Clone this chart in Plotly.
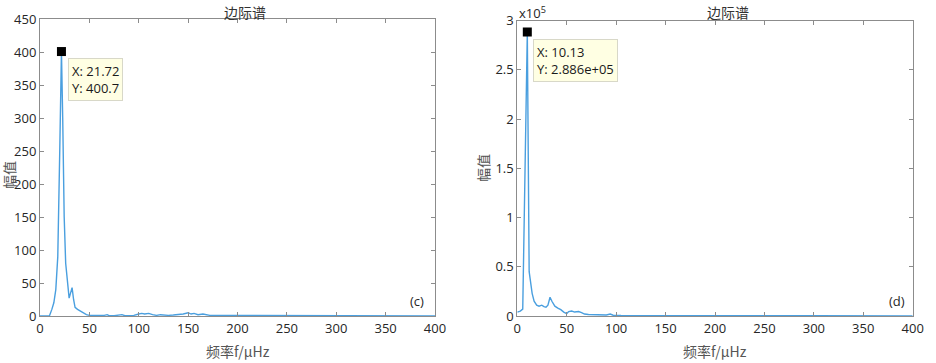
import plotly.graph_objects as go

W, H = 936, 363

# ---- data ----
c_freq = [0, 5, 9.5, 12, 14, 16, 18, 20, 21.72, 23, 24.5, 26, 28, 29.5, 31, 32.5, 34, 35.5,
          38, 41, 44, 47, 50, 55, 60, 65, 68, 70, 75, 80, 83, 86, 90, 95, 100, 103, 106,
          110, 114, 118, 122, 126, 130, 135, 140, 145, 150, 153, 156, 160, 165, 168, 172,
          180, 190, 200, 220, 250, 300, 350, 400]
c_amp = [0, 0, 0, 10, 20, 40, 90, 250, 400.7, 300, 150, 80, 45, 27, 35, 43, 25, 13,
         10, 7, 4, 2, 1, 1, 0.5, 1, 2, 0.5, 0.5, 1, 2, 0.5, 0.5, 1, 3, 4, 3,
         4, 2, 1, 2, 1, 1, 1.5, 2, 3, 5, 3, 4, 2, 3, 2, 1,
         1, 1, 0.5, 0.5, 0.3, 0.2, 0.1, 0.1]
c_peak_x, c_peak_y = [21.72], [400.7]

d_freq = [0, 3, 5.5, 10.13, 12, 15, 17, 19.6, 22, 24.7, 27, 29, 31, 33.1, 35, 38, 41, 44,
          47, 50, 52, 55, 58, 62, 65, 68, 72, 80, 90, 94, 97, 105, 120, 150, 200, 250,
          300, 400]
d_amp = [4000, 5000, 7000, 288600, 45000, 23000, 15000, 11000, 10000, 11000, 9500, 9000,
         11000, 19000, 15000, 10000, 8000, 6500, 4000, 2500, 4500, 5000, 4000, 4500, 3500,
         2000, 1500, 1000, 1000, 2000, 800, 500, 400, 300, 300, 200, 200, 100]
d_peak_x, d_peak_y = [10.13], [288600]

x_ticks = [0, 50, 100, 150, 200, 250, 300, 350, 400]
c_yticks = [0, 50, 100, 150, 200, 250, 300, 350, 400, 450]
d_yticks = [0, 50000, 100000, 150000, 200000, 250000, 300000]
d_yticklabels = ["0", "0.5", "1", "1.5", "2", "2.5", "3"]

title_text = "边际谱"
xlabel = "频率f/μHz"
ylabel = "幅值"

LINE = "#4a9fdf"
AX = "#8c8c8c"
TXT = "#262626"
FONT = "Open Sans"
CJK = "Noto Sans CJK SC"


def px(x):
    return x / W


def py(y):
    return 1 - y / H


fig = go.Figure()
fig.add_trace(go.Scatter(x=c_freq, y=c_amp, mode="lines", line=dict(color=LINE, width=1.4),
                         xaxis="x", yaxis="y", showlegend=False))
fig.add_trace(go.Scatter(x=c_peak_x, y=c_peak_y, mode="markers",
                         marker=dict(symbol="square", size=9, color="black"),
                         xaxis="x", yaxis="y", showlegend=False))
fig.add_trace(go.Scatter(x=d_freq, y=d_amp, mode="lines", line=dict(color=LINE, width=1.4),
                         xaxis="x2", yaxis="y2", showlegend=False))
fig.add_trace(go.Scatter(x=d_peak_x, y=d_peak_y, mode="markers",
                         marker=dict(symbol="square", size=9, color="black"),
                         xaxis="x2", yaxis="y2", showlegend=False))

axis_common = dict(showgrid=False, zeroline=False, showline=True, linecolor=AX, linewidth=1,
                   mirror="ticks", ticks="inside", ticklen=4, tickcolor=AX, automargin=False,
                   tickfont=dict(family=FONT, size=13, color=TXT))

fig.update_layout(
    width=W, height=H, margin=dict(l=0, r=0, t=0, b=0, autoexpand=False),
    paper_bgcolor="white", plot_bgcolor="white",
    xaxis=dict(domain=[px(40), px(435)], range=[0, 400], tickvals=x_ticks, anchor="y",
               **axis_common),
    yaxis=dict(domain=[py(316), py(19)], range=[0, 450], tickvals=c_yticks, anchor="x",
               **axis_common),
    xaxis2=dict(domain=[px(517.3), px(912.7)], range=[0, 400], tickvals=x_ticks, anchor="y2",
                **axis_common),
    yaxis2=dict(domain=[py(316), py(20.7)], range=[0, 300000], tickvals=d_yticks,
                ticktext=d_yticklabels, anchor="x2", **axis_common),
)

ann = []


def text(x, y, s, size=13, color=TXT, family=FONT, angle=0, xanchor="center", yanchor="middle"):
    ann.append(dict(x=px(x), y=py(y), xref="paper", yref="paper", text=s, showarrow=False,
                    font=dict(family=family, size=size, color=color), textangle=angle,
                    xanchor=xanchor, yanchor=yanchor))


# titles
text(245, 0, title_text, size=14, color="#333333", family=CJK, yanchor="top")
text(728, 0.5, title_text, size=14, color="#333333", family=CJK, yanchor="top")
# x labels
text(238, 351, xlabel, size=14, color="#555555", family=CJK)
text(715, 351, xlabel, size=14, color="#555555", family=CJK)
# y labels
text(9, 175, ylabel, size=14, color="#555555", family=CJK, angle=-90)
text(483, 168, ylabel, size=14, color="#555555", family=CJK, angle=-90)
# exponent
text(532, 12, "x10<sup>5</sup>", size=13)
# panel labels
text(417, 301, "(c)", size=13)
text(897, 301, "(d)", size=13)

# data tips
for (x0, y0, s) in [(68, 58, "X: %.2f<br>Y: %.1f" % (c_peak_x[0], c_peak_y[0])),
                    (533, 39, "X: %.2f<br>Y: %.3e" % (d_peak_x[0], d_peak_y[0]))]:
    ann.append(dict(x=px(x0), y=py(y0), xref="paper", yref="paper", text=s, showarrow=False,
                    xanchor="left", yanchor="top", align="left",
                    font=dict(family=FONT, size=13, color="#1a1a1a"),
                    bgcolor="#ffffe3", bordercolor="#d8d8c8", borderwidth=1, borderpad=3))

fig.update_layout(annotations=ann)
fig.write_html("out.html", config={"displayModeBar": False},
               post_script="document.body.style.margin='0';document.body.style.overflow='hidden';")
